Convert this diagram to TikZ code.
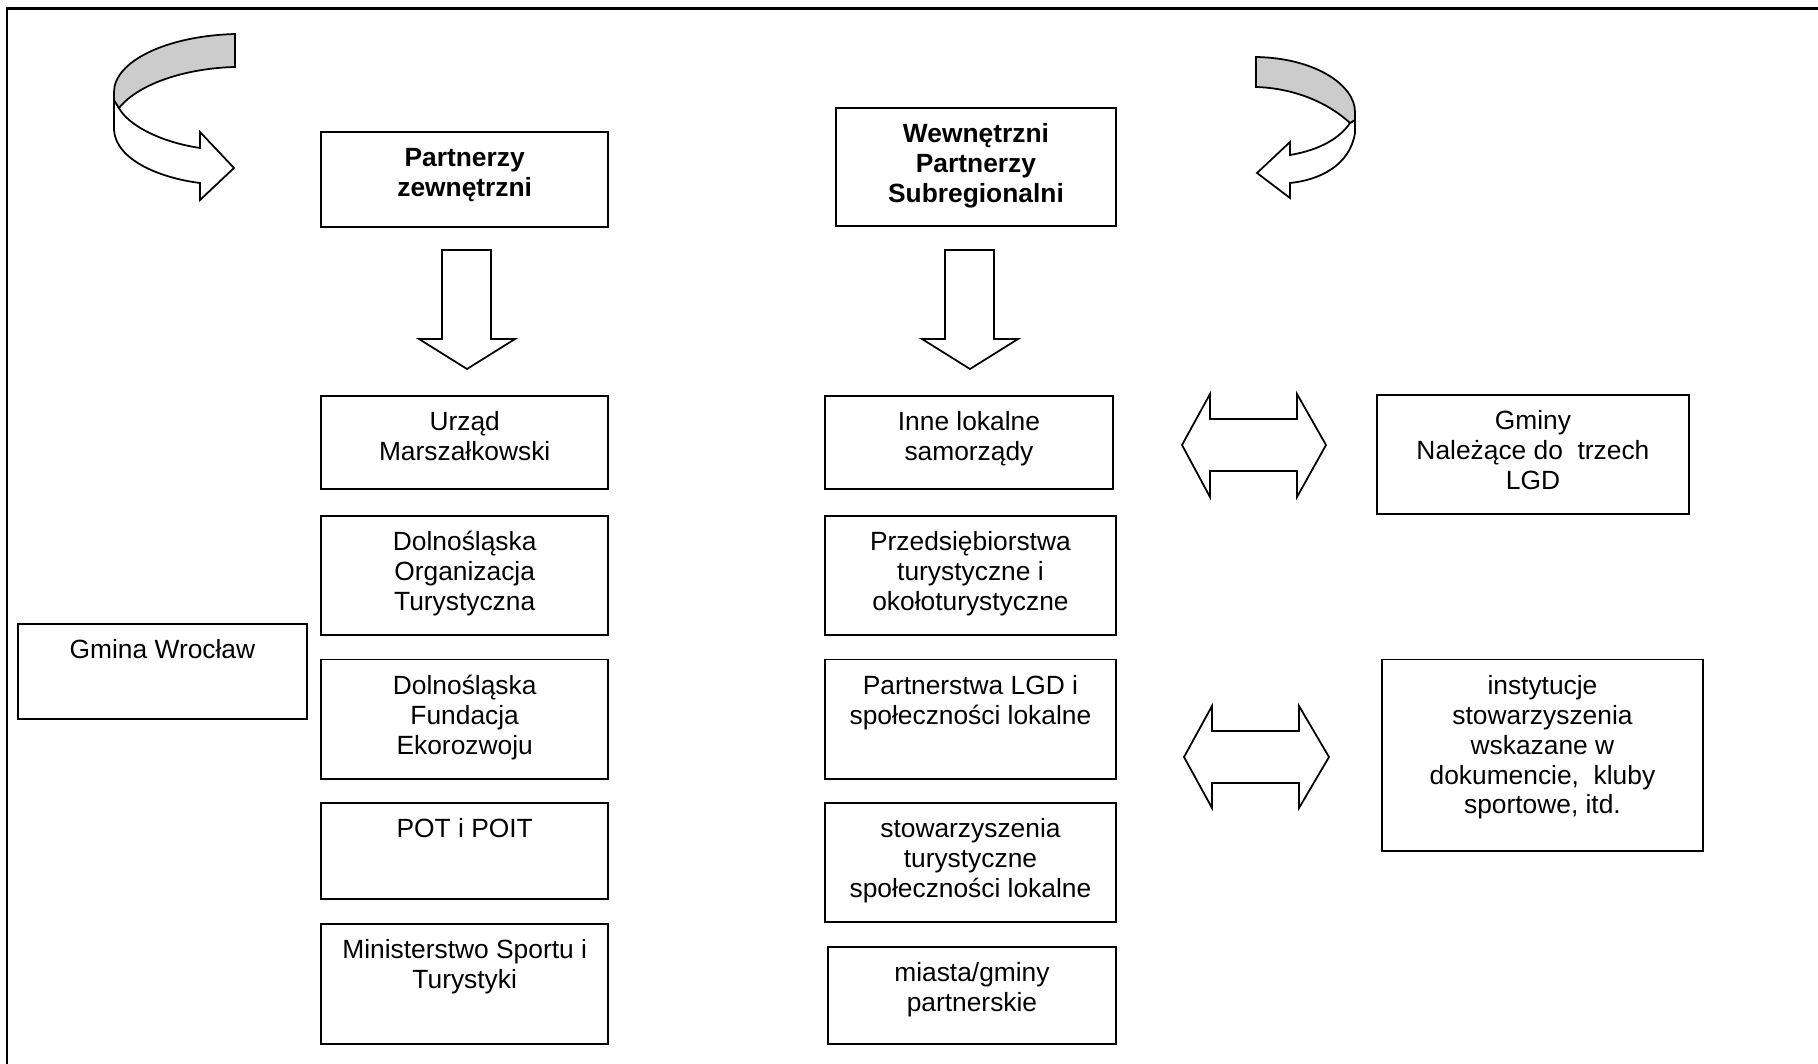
\documentclass[tikz,border=0pt]{standalone}
\usepackage{fontspec}
\setmainfont{Liberation Sans}
\newcommand\boxfont{\fontsize{15}{17}\selectfont}
\newcommand\boxlines[1]{\begin{tabular}[t]{@{}c@{}}#1\end{tabular}}
\tikzset{
  box/.style={draw, line width=1.1pt, inner sep=0pt, anchor=north west,
    text height=0.7cm, font=\boxfont},
  blk/.style={draw, fill=white, line width=1pt, line join=miter},
  band/.style={draw, fill=gray!40, line width=1pt}
}
\begin{document}
\begin{tikzpicture}[x=0.02cm,y=-0.02cm]
  \useasboundingbox (0,0) rectangle (1818,1064);

  % frame (top and left only)
  \draw[line width=1.7pt] (7,1064) -- (7,8.5) -- (1818,8.5);

  % headers
  \node[box, minimum width=5.75cm, text depth=1.2cm] (ext) at (320,131)
    {\boxlines{\textbf{Partnerzy}\\\textbf{zewnętrzni}}};
  \node[box, minimum width=5.6cm, text depth=1.66cm] (int) at (835,107)
    {\boxlines{\textbf{Wewnętrzni}\\\textbf{Partnerzy}\\\textbf{Subregionalni}}};

  % left column
  \node[box, minimum width=5.75cm, text depth=1.16cm] (urzad) at (320,395)
    {\boxlines{Urząd\\Marszałkowski}};
  \node[box, minimum width=5.75cm, text depth=1.68cm] (dot) at (320,515)
    {\boxlines{Dolnośląska\\Organizacja\\Turystyczna}};
  \node[box, minimum width=5.75cm, text depth=1.69cm] (dfe) at (320,658.5)
    {\boxlines{Dolnośląska\\Fundacja\\Ekorozwoju}};
  \node[box, minimum width=5.75cm, text depth=1.23cm] (pot) at (320,802)
    {\boxlines{POT i POIT}};
  \node[box, minimum width=5.75cm, text depth=1.7cm] (msit) at (320,923)
    {\boxlines{Ministerstwo Sportu i\\Turystyki}};

  % middle column
  \node[box, minimum width=5.76cm, text depth=1.16cm] (inne) at (824,395)
    {\boxlines{Inne lokalne\\samorządy}};
  \node[box, minimum width=5.82cm, text depth=1.68cm] (przed) at (824,515)
    {\boxlines{Przedsiębiorstwa\\turystyczne i\\okołoturystyczne}};
  \node[box, minimum width=5.82cm, text depth=1.69cm] (plgd) at (824,658.5)
    {\boxlines{Partnerstwa LGD i\\społeczności lokalne}};
  \node[box, minimum width=5.82cm, text depth=1.69cm] (stow) at (824,802)
    {\boxlines{stowarzyszenia\\turystyczne\\społeczności lokalne}};
  \node[box, minimum width=5.76cm, text depth=1.24cm] (miasta) at (827,946)
    {\boxlines{miasta/gminy\\partnerskie}};

  % side boxes
  \node[box, minimum width=5.78cm, text depth=1.2cm] (wroc) at (17,622.6)
    {\boxlines{Gmina Wrocław}};
  \node[box, minimum width=6.24cm, text depth=1.69cm] (gminy) at (1376,394)
    {\boxlines{Gminy\\Należące do\ \ trzech\\LGD}};
  \node[box, minimum width=6.42cm, text depth=3.13cm] (inst) at (1381,658.5)
    {\boxlines{instytucje\\stowarzyszenia\\wskazane w\\dokumencie,\ \ kluby\\sportowe, itd.}};

  % down arrows
  \foreach \dx in {0,503}
    \draw[blk, xshift=\dx*0.02cm] (442,250) -- (491,250) -- (491,339) -- (515,339)
      -- (467,369) -- (419,339) -- (442,339) -- cycle;

  % double arrows
  \draw[blk] (1182,445) -- (1210,394) -- (1210,419) -- (1297,419) -- (1297,394)
    -- (1326,445) -- (1297,497) -- (1297,471) -- (1210,471) -- (1210,497) -- cycle;
  \draw[blk] (1184,757) -- (1212,706) -- (1212,731) -- (1299,731) -- (1299,706)
    -- (1329,757) -- (1299,808) -- (1299,783) -- (1212,783) -- (1212,808) -- cycle;

  % curved arrow, left
  \draw[blk] (114,92) -- (114,130) .. controls (116,160) and (160,178) .. (200,183)
    -- (200,200) -- (234,168) -- (200,132) -- (200,148)
    .. controls (160,142) and (128,125) .. (119,108) -- (114,100) -- cycle;
  \draw[band] (235,34) .. controls (165,36) and (114,62) .. (114,92) -- (114,100)
    -- (119,108) .. controls (140,82) and (190,68) .. (235,67) -- cycle;

  % curved arrow, right
  \draw[blk] (1355,112) -- (1355,133) .. controls (1350,165) and (1320,180) .. (1290,183)
    -- (1290,198) -- (1257,173) -- (1290,142) -- (1290,155)
    .. controls (1320,150) and (1340,138) .. (1350,123) -- (1355,120) -- cycle;
  \draw[band] (1256,57) .. controls (1315,58) and (1355,85) .. (1355,112) -- (1355,120)
    -- (1350,123) .. controls (1325,100) and (1290,88) .. (1256,87) -- cycle;
\end{tikzpicture}
\end{document}
